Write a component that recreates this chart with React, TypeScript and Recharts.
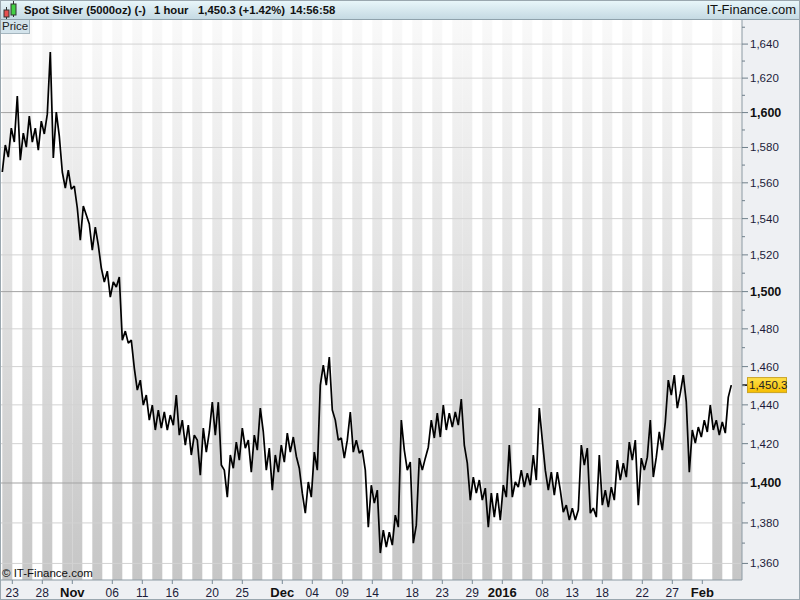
import React from "react";
import { LineChart, Line, XAxis, YAxis, ReferenceArea, ReferenceLine } from "recharts";

// Price samples (every ~0.3 trading day), scaled x100 as on the chart
const prices = [
  1566.1, 1581.4, 1574.5, 1591.1, 1583.1, 1609.5, 1572.8, 1588.2, 1580.2, 1598.0,
  1583.1, 1591.1, 1578.5, 1595.1, 1587.7, 1599.1, 1635.3, 1574.0, 1600.3, 1586.5,
  1566.1, 1557.0, 1567.2, 1556.5, 1558.2, 1545.9, 1528.1, 1547.0, 1542.0, 1537.0,
  1522.6, 1535.3, 1525.4, 1512.8, 1505.2, 1511.1, 1497.0, 1505.2, 1502.5, 1507.9,
  1474.0, 1478.8, 1472.4, 1474.0, 1459.2, 1447.7, 1452.9, 1439.9, 1445.1, 1432.1,
  1439.9, 1427.0, 1437.3, 1428.0, 1436.3, 1427.0, 1434.7, 1429.5, 1445.1, 1424.4,
  1432.1, 1419.3, 1429.5, 1414.2, 1424.4, 1421.8, 1404.0, 1428.0, 1415.7, 1426.0,
  1441.4, 1424.4, 1441.4, 1409.1, 1406.5, 1392.9, 1414.2, 1407.5, 1420.8, 1411.6,
  1428.0, 1417.7, 1421.8, 1405.5, 1424.4, 1416.7, 1438.3, 1426.0, 1406.5, 1417.7,
  1396.4, 1414.2, 1405.5, 1419.3, 1410.6, 1425.4, 1415.7, 1423.4, 1413.6, 1407.5,
  1394.9, 1384.9, 1400.5, 1392.9, 1415.7, 1406.5, 1450.3, 1460.8, 1450.3, 1465.0,
  1437.3, 1432.1, 1421.8, 1422.9, 1412.6, 1421.8, 1436.3, 1415.7, 1421.8, 1415.2,
  1416.7, 1406.5, 1377.9, 1398.9, 1389.9, 1396.4, 1365.1, 1376.4, 1368.0, 1375.4,
  1369.0, 1383.9, 1377.9, 1432.1, 1416.7, 1406.5, 1410.6, 1370.0, 1378.9, 1412.6,
  1406.5, 1412.6, 1418.2, 1432.1, 1422.9, 1435.7, 1423.4, 1439.9, 1427.0, 1435.7,
  1428.5, 1436.3, 1429.5, 1443.0, 1419.3, 1410.1, 1391.4, 1403.0, 1394.9, 1401.5,
  1391.4, 1397.4, 1377.9, 1394.9, 1382.9, 1394.9, 1381.4, 1398.9, 1392.9, 1419.3,
  1392.9, 1400.5, 1397.9, 1406.5, 1397.9, 1405.0, 1398.9, 1414.2, 1401.5, 1438.3,
  1421.8, 1406.5, 1396.4, 1405.5, 1393.9, 1405.5, 1396.4, 1385.4, 1388.9, 1381.4,
  1387.4, 1381.4, 1386.4, 1419.3, 1409.1, 1417.7, 1384.9, 1387.4, 1382.9, 1414.2,
  1388.9, 1396.4, 1387.9, 1397.9, 1391.4, 1411.6, 1401.5, 1410.1, 1403.0, 1420.8,
  1411.6, 1421.8, 1388.9, 1412.6, 1406.5, 1413.1, 1432.1, 1403.0, 1413.1, 1426.0,
  1416.7, 1431.1, 1452.9, 1445.1, 1455.5, 1438.3, 1446.1, 1455.5, 1441.4, 1405.5,
  1427.0, 1420.3, 1428.5, 1423.4, 1432.1, 1426.0, 1439.9, 1427.0, 1432.1, 1424.4,
  1431.1, 1425.4, 1444.0, 1450.3,
];
const STEP_DAYS = 0.3; // trading days between samples

// Trading days (day of month)
const octDays = [22, 23, 26, 27, 28, 29, 30];
const novDays = [2, 3, 4, 5, 6, 9, 10, 11, 12, 13, 16, 17, 18, 19, 20, 23, 24, 25, 26, 27, 30];
const decDays = [1, 2, 3, 4, 7, 8, 9, 10, 11, 14, 15, 16, 17, 18, 21, 22, 23, 24, 28, 29, 30, 31];
const janDays = [4, 5, 6, 7, 8, 11, 12, 13, 14, 15, 18, 19, 20, 21, 22, 25, 26, 27, 28, 29];
const febDays = [1, 2, 3, 4];

const tickDates = [
  "Oct 23", "Oct 28", "Nov 2", "Nov 6", "Nov 11", "Nov 16", "Nov 20", "Nov 25",
  "Dec 1", "Dec 4", "Dec 9", "Dec 14", "Dec 18", "Dec 23", "Dec 29",
  "Jan 4", "Jan 8", "Jan 13", "Jan 18", "Jan 22", "Jan 27", "Feb 1",
];
const tickLabels = [
  "23", "28", "Nov", "06", "11", "16", "20", "25",
  "Dec", "04", "09", "14", "18", "23", "29",
  "2016", "08", "13", "18", "22", "27", "Feb",
];
const boldLabels = ["Nov", "Dec", "2016", "Feb"];

const yTicks = [
  1360, 1370, 1380, 1390, 1400, 1410, 1420, 1430, 1440, 1450, 1460, 1470, 1480, 1490,
  1500, 1510, 1520, 1530, 1540, 1550, 1560, 1570, 1580, 1590, 1600, 1610, 1620, 1630,
  1640, 1650,
];
const yGrid = [1360, 1380, 1400, 1420, 1440, 1460, 1480, 1500, 1520, 1540, 1560, 1580, 1600, 1620, 1640];
const yMajor = [1400, 1500, 1600];

const headerItems = ["Spot Silver (5000oz) (-)", "1 hour", "1,450.3 (+1.42%)", "14:56:58"];

const FONT = "'Liberation Sans', Arial, sans-serif";

const months: [string, number[]][] = [
  ["Oct", octDays], ["Nov", novDays], ["Dec", decDays], ["Jan", janDays], ["Feb", febDays],
];
const days = months.flatMap(([m, arr]) => arr.map((d) => ({ m, d, key: `${m} ${d}` })));
const tickValues = tickDates.map((td) => days.findIndex((d) => d.key === td));

const fmt = (v: number) => v.toLocaleString("en-US");

const XTick = (props: any) => {
  const { x, y, payload } = props;
  const idx = tickValues.indexOf(payload.value);
  const label = tickLabels[idx] ?? "";
  const bold = boldLabels.includes(label);
  return (
    <text
      x={x}
      y={y + 11}
      textAnchor="middle"
      fontFamily={FONT}
      fontSize={bold ? 13 : 12}
      fontWeight={bold ? 700 : 400}
      fill={bold ? "#111" : "#1c1c3a"}
    >
      {label}
    </text>
  );
};

const YTick = (props: any) => {
  const { x, y, payload } = props;
  const v = payload.value as number;
  const labeled = v % 20 === 0 && v <= 1640;
  const major = yMajor.includes(v);
  const ax = x - 8;
  return (
    <g>
      <line x1={ax} x2={ax + (labeled ? 6 : 3)} y1={y} y2={y} stroke="#6f7f8a" />
      {labeled && (
        <text
          x={ax + 8}
          y={y + 4}
          fontFamily={FONT}
          fontSize={major ? 12.5 : 11.5}
          fontWeight={major ? 700 : 400}
          fill={major ? "#111" : "#1c1c3a"}
        >
          {fmt(v)}
        </text>
      )}
    </g>
  );
};

const PriceTag = (props: any) => {
  const vb = props.viewBox || {};
  const ax = vb.x + vb.width;
  const cy = vb.y;
  const last = prices[prices.length - 1];
  return (
    <g>
      <line x1={ax} x2={ax + 5} y1={cy} y2={cy} stroke="#000" strokeWidth={1.5} />
      <rect x={ax + 5.5} y={cy - 7.5} width={39} height={15} fill="url(#tagGrad)" stroke="#c9a326" />
      <text x={ax + 7} y={cy + 4} fontFamily={FONT} fontSize={11.5} fill="#222">
        {fmt(last)}
      </text>
    </g>
  );
};

export default function App() {
  const data = prices.map((p, i) => ({ t: i * STEP_DAYS, price: p }));
  const last = prices[prices.length - 1];
  const headerX = [24, 154, 198, 290];

  return (
    <div
      style={{
        position: "absolute",
        left: 0,
        top: 0,
        width: 800,
        height: 600,
        background: "#eef0f3",
        overflow: "hidden",
        fontFamily: FONT,
      }}
    >
      <div style={{ position: "absolute", left: 0, top: 20, width: 742, height: 560, background: "#fff" }} />
      <div style={{ position: "absolute", left: 0, top: 0 }}>
        <LineChart width={800} height={600} data={data} margin={{ top: 20, right: 0, bottom: 0, left: 0 }}>
          <defs>
            <linearGradient id="stripeGrad" x1="0" y1="0" x2="0" y2="1">
              <stop offset="0%" stopColor="#f9f9f9" />
              <stop offset="100%" stopColor="#c6c6c6" />
            </linearGradient>
            <linearGradient id="tagGrad" x1="0" y1="0" x2="0" y2="1">
              <stop offset="0%" stopColor="#ffe14a" />
              <stop offset="100%" stopColor="#f5bd00" />
            </linearGradient>
          </defs>
          <XAxis
            dataKey="t"
            type="number"
            domain={[-0.23, 73.97]}
            allowDataOverflow
            ticks={tickValues}
            interval={0}
            height={20}
            tickSize={4}
            tickMargin={2}
            tick={<XTick />}
            tickLine={{ stroke: "#7a8a96" }}
            axisLine={{ stroke: "#8c9aa4" }}
          />
          <YAxis
            orientation="right"
            type="number"
            scale="log"
            domain={[1351.9, 1654.3]}
            allowDataOverflow
            ticks={yTicks}
            interval={0}
            width={58}
            tickSize={6}
            tickMargin={2}
            tickLine={false}
            tick={<YTick />}
            axisLine={{ stroke: "#8c9aa4" }}
          />
          {days.map((d, k) =>
            d.d % 2 === 0 ? (
              <ReferenceArea
                key={d.key}
                x1={k}
                x2={k + 1}
                fill="url(#stripeGrad)"
                fillOpacity={1}
                stroke="none"
                ifOverflow="hidden"
              />
            ) : null
          )}
          {yGrid.map((v) => (
            <ReferenceLine
              key={v}
              y={v}
              stroke={yMajor.includes(v) ? "#a3a3a3" : "#d2d2d2"}
              strokeWidth={1}
            />
          ))}
          <Line
            type="linear"
            dataKey="price"
            stroke="#000"
            strokeWidth={1.7}
            strokeLinejoin="bevel"
            dot={false}
            isAnimationActive={false}
          />
          <ReferenceLine y={last} stroke="none" ifOverflow="visible" label={(p: any) => <PriceTag {...p} />} />
        </LineChart>
      </div>

      {/* header bar */}
      <div
        style={{
          position: "absolute",
          left: 0,
          top: 0,
          width: 800,
          height: 20,
          background: "linear-gradient(#eaf7fb, #c5dae3)",
          borderBottom: "1px solid #8fa2ac",
          boxSizing: "border-box",
        }}
      >
        <svg width={20} height={20} style={{ position: "absolute", left: 0, top: 0 }}>
          <line x1={6.5} x2={6.5} y1={7} y2={19} stroke="#333" />
          <rect x={4} y={10} width={5} height={7} fill="#e65050" stroke="#333" />
          <line x1={13.5} x2={13.5} y1={1} y2={17} stroke="#333" />
          <rect x={11} y={4} width={5} height={11} fill="#44d044" stroke="#333" />
        </svg>
        {headerItems.map((s, i) => (
          <span
            key={s}
            style={{
              position: "absolute",
              left: headerX[i],
              top: 2,
              fontSize: 11.3,
              fontWeight: 700,
              lineHeight: "16px",
              color: "#111",
              whiteSpace: "nowrap",
            }}
          >
            {s}
          </span>
        ))}
        <span
          style={{
            position: "absolute",
            right: 4,
            top: 2,
            fontSize: 13,
            lineHeight: "16px",
            color: "#111",
            whiteSpace: "nowrap",
          }}
        >
          IT-Finance.com
        </span>
      </div>

      {/* Price tab */}
      <div
        style={{
          position: "absolute",
          left: 0,
          top: 20,
          width: 30,
          height: 14,
          background: "#d3e3eb",
          border: "1px solid #a5b6bf",
          borderLeft: "none",
          borderTop: "none",
          boxSizing: "border-box",
          fontSize: 11.5,
          lineHeight: "13px",
          paddingLeft: 2,
          color: "#222",
        }}
      >
        Price
      </div>

      {/* copyright */}
      <div
        style={{
          position: "absolute",
          left: 2,
          top: 566,
          fontSize: 11.5,
          lineHeight: "14px",
          color: "#111",
          whiteSpace: "nowrap",
        }}
      >
        © IT-Finance.com
      </div>

      {/* outer frame */}
      <div
        style={{
          position: "absolute",
          left: 0,
          top: 0,
          width: 800,
          height: 600,
          border: "1px solid #9aa7af",
          boxSizing: "border-box",
          pointerEvents: "none",
        }}
      />
    </div>
  );
}
